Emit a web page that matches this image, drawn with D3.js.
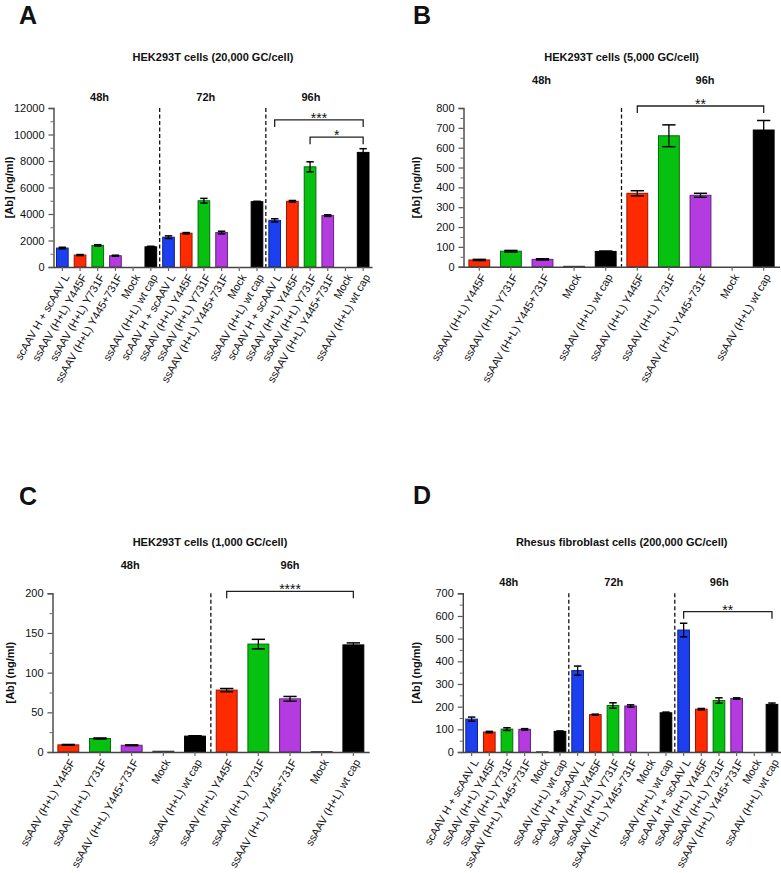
<!DOCTYPE html>
<html><head><meta charset="utf-8">
<script src="https://cdn.jsdelivr.net/npm/d3@7"></script>
<style>
body{margin:0;background:#fff}
svg{display:block}
text{font-family:"Liberation Sans", Arial, Helvetica, sans-serif;fill:#111}
</style>
</head><body>
<svg id="chart" width="781" height="873"></svg>
<script>
// ---------------- DATA ----------------
const groupLabels6 = ["scAAV H + scAAV L", "ssAAV (H+L) Y445F", "ssAAV (H+L) Y731F", "ssAAV (H+L) Y445+731F", "Mock", "ssAAV (H+L) wt cap"];
const groupKeys6 = ["blue", "red", "green", "purple", "mock", "black"];
const groupLabels5 = ["ssAAV (H+L) Y445F", "ssAAV (H+L) Y731F", "ssAAV (H+L) Y445+731F", "Mock", "ssAAV (H+L) wt cap"];
const groupKeys5 = ["red", "green", "purple", "mock", "black"];

const timesABD = ["48h", "72h", "96h"];
const timesBC = ["48h", "96h"];

const titleA = "HEK293T cells (20,000 GC/cell)";
const titleB = "HEK293T cells (5,000 GC/cell)";
const titleC = "HEK293T cells (1,000 GC/cell)";
const titleD = "Rhesus fibroblast cells (200,000 GC/cell)";
const yLabel = "[Ab] (ng/ml)";

const valuesA = [1430, 900, 1625, 850, 0, 1525, 2250, 2550, 5000, 2600, 0, 4930, 3520, 4960, 7560, 3880, 0, 8650];
const errorsA = [60, 40, 60, 40, 0, 40, 100, 50, 180, 100, 0, 30, 120, 60, 380, 60, 0, 280];
const ticksA = [0, 2000, 4000, 6000, 8000, 10000, 12000];
const minorA = [1000, 3000, 5000, 7000, 9000, 11000];

const valuesB = [34, 78, 37, 2, 77, 370, 660, 360, 0, 689];
const errorsB = [3, 4, 3, 0, 2, 13, 55, 10, 0, 48];
const ticksB = [0, 100, 200, 300, 400, 500, 600, 700, 800];
const minorB = [50, 150, 250, 350, 450, 550, 650, 750];

const valuesC = [9, 17, 8.5, 1, 20, 78, 136, 67, 0.5, 135];
const errorsC = [0.5, 0.7, 0.5, 0, 0.5, 2, 6, 3, 0, 2.5];
const ticksC = [0, 50, 100, 150, 200];
const minorC = [25, 75, 125, 175];

const valuesD = [145, 88, 101, 100, 1, 91, 359, 165, 205, 203, 0, 173, 538, 189, 227, 236, 0, 210];
const errorsD = [9, 3, 6, 3, 0, 2, 20, 2, 12, 5, 0, 3, 30, 3, 12, 3, 0, 6];
const ticksD = [0, 100, 200, 300, 400, 500, 600, 700];
const minorD = [50, 150, 250, 350, 450, 550, 650];

// significance brackets: [fromIndex, toIndex, level, label]
const sigA = [[12, 17, 11100, "***"], [14, 17, 9800, "*"]];
const sigB = [[5, 9, 810, "**"]];
const sigC = [[5, 9, 202.5, "****"]];
const sigD = [[12, 17, 619, "**"]];

// ---------------- STYLE ----------------
const fills = {blue: "#1c3ff0", red: "#ff2a00", green: "#06c10f", purple: "#b33be0", mock: "#666", black: "#000"};

const svg = d3.select("#chart");

function panel(cfg) {
  const n = cfg.values.length;
  const per = cfg.groupLabels.length;
  const cats = d3.range(n);
  const x = d3.scaleBand().domain(cats).range([cfg.left, cfg.right]).paddingInner(0).paddingOuter(0);
  const y = d3.scaleLinear().domain([0, cfg.ymax]).range([cfg.bottom, cfg.top]);
  const g = svg.append("g");
  const bw = x.bandwidth();
  const barW = bw * 0.66;
  const capW = bw * 0.42;

  // letter
  g.append("text").attr("x", cfg.letterX).attr("y", cfg.letterY)
    .attr("font-size", 25).attr("font-weight", "bold").text(cfg.letter);
  // title
  g.append("text").attr("x", cfg.titleX).attr("y", cfg.titleY).attr("text-anchor", "middle")
    .attr("font-size", 11).attr("font-weight", "bold").text(cfg.title);
  // time headers
  cfg.times.forEach((t, k) => {
    const cx = (x(k * per) + x(k * per + per - 1) + bw) / 2 + cfg.headerDx[k];
    g.append("text").attr("x", cx).attr("y", cfg.headerY).attr("text-anchor", "middle")
      .attr("font-size", 11).attr("font-weight", "bold").text(t);
  });
  // y label
  g.append("text").attr("transform", `translate(${cfg.ylabelX},${(cfg.top + cfg.bottom) / 2}) rotate(-90)`)
    .attr("text-anchor", "middle").attr("dy", "0.35em")
    .attr("font-size", 11).attr("font-weight", "bold").text(yLabel);

  // dashed separators
  for (let k = 1; k < cfg.times.length; k++) {
    const xx = x(k * per);
    g.append("line").attr("x1", xx).attr("x2", xx).attr("y1", y(cfg.ymax)).attr("y2", y(0))
      .attr("stroke", "#111").attr("stroke-width", 1.3).attr("stroke-dasharray", "4,2.5");
  }

  // bars
  const keyOf = i => cfg.groupKeys[i % per];
  g.selectAll("rect.bar").data(cats).join("rect").attr("class", "bar")
    .attr("x", i => x(i) + (bw - barW) / 2)
    .attr("width", barW)
    .attr("y", i => y(cfg.values[i]))
    .attr("height", i => y(0) - y(cfg.values[i]))
    .attr("fill", i => fills[keyOf(i)])
    .attr("stroke", i => keyOf(i) === "black" ? "#000" : d3.color(fills[keyOf(i)]).darker(1.6))
    .attr("stroke-width", i => cfg.values[i] > 0 ? 1 : 0);

  // error bars
  cats.forEach(i => {
    const e = cfg.errors[i];
    if (e <= 0) return;
    const cx = x(i) + bw / 2;
    const v = cfg.values[i];
    g.append("line").attr("x1", cx).attr("x2", cx).attr("y1", y(v - e)).attr("y2", y(v + e))
      .attr("stroke", "#000").attr("stroke-width", 1.3);
    [v - e, v + e].forEach(vv => g.append("line").attr("x1", cx - capW / 2).attr("x2", cx + capW / 2)
      .attr("y1", y(vv)).attr("y2", y(vv)).attr("stroke", "#000").attr("stroke-width", 1.5));
  });

  // y axis
  const ya = g.append("g").attr("transform", `translate(${cfg.left},0)`)
    .call(d3.axisLeft(y).tickValues(cfg.ticks).tickSize(5).tickFormat(d3.format("d")));
  ya.selectAll("text").attr("font-size", 11).attr("font-family", "Liberation Sans, Arial, sans-serif").attr("fill", "#222").attr("dx", "-1");
  ya.select(".domain").attr("stroke", "#444").attr("stroke-width", 1.4);
  ya.selectAll(".tick line").attr("stroke", "#555").attr("stroke-width", 1.2);
  const ym = g.append("g").attr("transform", `translate(${cfg.left},0)`)
    .call(d3.axisLeft(y).tickValues(cfg.minor).tickSize(3).tickFormat(""));
  ym.select(".domain").remove();
  ym.selectAll(".tick line").attr("stroke", "#666").attr("stroke-width", 1);

  // x axis
  const xa = g.append("g").attr("transform", `translate(0,${cfg.bottom})`)
    .call(d3.axisBottom(x).tickSize(4).tickSizeOuter(0).tickFormat(i => cfg.groupLabels[i % per]));
  xa.select(".domain").attr("stroke", "#444").attr("stroke-width", 1.4);
  xa.selectAll(".tick line").attr("stroke", "#666").attr("stroke-width", 1.2);
  xa.selectAll("text").attr("font-size", 11).attr("font-family", "Liberation Sans, Arial, sans-serif").attr("fill", "#222")
    .attr("text-anchor", "end").attr("transform", "translate(4,8) rotate(-60)").attr("x", 0).attr("y", 0).attr("dy", "0.35em");

  // significance brackets
  cfg.sig.forEach(([a, b, lvl, lab]) => {
    const xa1 = x(a) + bw / 2, xb1 = x(b) + bw / 2, yy = y(lvl);
    g.append("path").attr("d", `M${xa1},${yy + 7}V${yy}H${xb1}V${yy + 7}`)
      .attr("fill", "none").attr("stroke", "#222").attr("stroke-width", 1.3);
    g.append("text").attr("x", (xa1 + xb1) / 2).attr("y", yy + 3).attr("text-anchor", "middle")
      .attr("font-size", 14).text(lab);
  });
}

const rep = (arr, k) => d3.range(k).flatMap(() => arr);

panel({letter: "A", title: titleA, times: timesABD, groupLabels: groupLabels6, groupKeys: groupKeys6,
  values: valuesA, errors: errorsA, ymax: 12000, ticks: ticksA, minor: minorA, sig: sigA,
  left: 53.5, right: 372, top: 108, bottom: 267, letterX: 19, letterY: 23.5, titleX: 213, titleY: 61,
  headerY: 101, headerDx: [-7, -7, -8], ylabelX: 9});
panel({letter: "B", title: titleB, times: timesBC, groupLabels: groupLabels5, groupKeys: groupKeys5,
  values: valuesB, errors: errorsB, ymax: 800, ticks: ticksB, minor: minorB, sig: sigB,
  left: 463.5, right: 779.5, top: 108, bottom: 266.7, letterX: 413, letterY: 23.5, titleX: 621.7, titleY: 61,
  headerY: 84, headerDx: [-1, 4.5], ylabelX: 416});
panel({letter: "C", title: titleC, times: timesBC, groupLabels: groupLabels5, groupKeys: groupKeys5,
  values: valuesC, errors: errorsC, ymax: 200, ticks: ticksC, minor: minorC, sig: sigC,
  left: 52.5, right: 369.2, top: 593.3, bottom: 752, letterX: 19, letterY: 505, titleX: 210, titleY: 546,
  headerY: 569, headerDx: [-1.5, 0], ylabelX: 10});
panel({letter: "D", title: titleD, times: timesABD, groupLabels: groupLabels6, groupKeys: groupKeys6,
  values: valuesD, errors: errorsD, ymax: 700, ticks: ticksD, minor: minorD, sig: sigD,
  left: 462.8, right: 780.8, top: 593.3, bottom: 752, letterX: 413, letterY: 504, titleX: 621.7, titleY: 546,
  headerY: 586, headerDx: [-7, -8, -8.5], ylabelX: 416});
</script>
</body></html>
